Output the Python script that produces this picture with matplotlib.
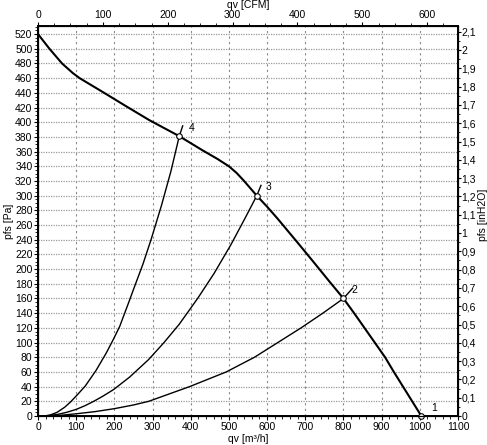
import numpy as np
import matplotlib
matplotlib.use("Agg")
import matplotlib.pyplot as plt
from matplotlib.ticker import MultipleLocator, FuncFormatter

plt.rcParams["font.family"] = ["Liberation Sans", "DejaVu Sans"]

# fan curve (m3/h, Pa)
q_fan = [0, 30, 63, 91, 109, 170, 230, 291, 370, 430, 470, 500, 520, 538, 573, 600, 627,
         680, 718, 765, 800, 828, 855, 882, 909, 932, 956, 980, 1004]
p_fan = [520, 500, 480, 467, 460, 441, 422, 403, 381, 362, 350, 340, 331, 321, 300, 285, 269,
         236, 212, 182, 160, 140, 120, 100, 80, 60, 40, 20, 0]

# system curves
q_sys4 = [15, 30, 50, 70, 85, 105, 124, 152, 179, 198, 214, 227, 240, 252, 275,
          296, 323, 348, 370, 379]
p_sys4 = [0, 1, 5, 12, 19, 30, 41, 62, 86, 105, 122, 140, 158, 175, 207,
          240, 286, 333, 381, 395]
q_sys3 = [15, 50, 75, 100, 123, 146, 170, 198, 240, 290, 330, 370, 418, 461, 505,
          543, 573, 584]
p_sys3 = [0, 2, 5, 9, 14, 20, 27, 36, 53, 77, 100, 125, 160, 194, 233,
          270, 300, 314]
q_sys2 = [15, 60, 100, 150, 200, 250, 290, 397, 493, 567, 628, 689, 746, 800, 824]
p_sys2 = [0, 1, 3, 6, 10, 15, 20, 40, 60, 80, 100, 120, 140, 160, 174]

# operating points
pt_labels = ["1", "2", "3", "4"]
pt_q = [1004, 800, 573, 370]
pt_p = [0, 160, 300, 381]
lbl_q = [1030, 822, 597, 394]
lbl_p = [11, 171, 312, 392]

PA_PER_INH2O = 249.089
M3H_PER_CFM = 1.699
FS = 7.5

fig = plt.figure(figsize=(4.87, 4.45), dpi=100)
ax = fig.add_axes([38 / 487, 1 - 416 / 445, 420 / 487, 390 / 445])

ax.plot(q_fan, p_fan, color="black", lw=1.5, zorder=3)
for q, p in [(q_sys2, p_sys2), (q_sys3, p_sys3), (q_sys4, p_sys4)]:
    ax.plot(q, p, color="black", lw=1.0, zorder=3)

ax.plot(pt_q, pt_p, ls="none", marker="o", ms=4, mfc="white", mec="black",
        mew=0.8, zorder=4, clip_on=False)
for t, x, y in zip(pt_labels, lbl_q, lbl_p):
    ax.text(x, y, t, fontsize=FS, ha="left", va="center")

ax.set_xlim(0, 1100)
ax.set_ylim(0, 531)
ax.xaxis.set_major_locator(MultipleLocator(100))
ax.xaxis.set_minor_locator(MultipleLocator(20))
ax.yaxis.set_major_locator(MultipleLocator(20))
ax.yaxis.set_minor_locator(MultipleLocator(5))

# grid: dotted horizontals, dashed verticals
ax.yaxis.grid(True, color="#9a9a9a", ls=(0, (1, 1)), lw=0.9)
ax.xaxis.grid(True, color="#8a8a8a", ls=(0, (2, 3)), lw=0.8)
ax.set_axisbelow(True)

for s in ax.spines.values():
    s.set_linewidth(1.4)

ax.tick_params(which="major", direction="out", length=3, width=0.8, labelsize=FS, pad=1)
ax.tick_params(which="minor", direction="out", length=2, width=0.6)

ax.set_xlabel("qv [m³/h]", fontsize=FS, labelpad=2)
ax.set_ylabel("pfs [Pa]", fontsize=FS, labelpad=1)

comma = FuncFormatter(lambda v, pos: ("%g" % round(v, 2)).replace(".", ","))

# right axis in inH2O
axr = ax.twinx()
axr.set_ylim(0, 531 / PA_PER_INH2O)
axr.yaxis.set_major_locator(MultipleLocator(0.1))
axr.yaxis.set_minor_locator(MultipleLocator(0.05))
axr.yaxis.set_major_formatter(comma)
axr.tick_params(which="major", direction="out", length=2, width=0.8, labelsize=FS, pad=0.5)
axr.tick_params(which="minor", direction="out", length=1.5, width=0.6)
fig.text(483.5 / 487, 1 - 215 / 445, "pfs [inH2O]", fontsize=FS, rotation=90,
         ha="center", va="center")

# top axis in CFM
axt = ax.twiny()
axt.set_xlim(0, 1100 / M3H_PER_CFM)
axt.xaxis.set_major_locator(MultipleLocator(100))
axt.xaxis.set_minor_locator(MultipleLocator(25))
axt.tick_params(which="major", direction="out", length=3, width=0.8, labelsize=FS, pad=1)
axt.tick_params(which="minor", direction="out", length=2, width=0.6)
axt.set_xlabel("qv [CFM]", fontsize=FS, labelpad=2)

fig.savefig("out.png", dpi=100)
